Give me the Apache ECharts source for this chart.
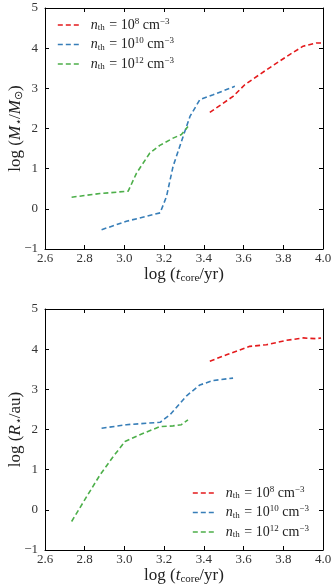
<!DOCTYPE html>
<html lang="en">
<head>
    <meta charset="UTF-8">
    <title>core mass and radius</title>
    <script src="https://cdn.jsdelivr.net/npm/echarts@6/dist/echarts.min.js"></script>
</head>
<body style="margin:0">
<div id="main" style="width: 333px;height:585px;"></div>
<script>
    // log(t_core/yr) and log(M*/Msun), top panel
    const tM8 = [3.43, 3.547, 3.606, 3.715, 3.832, 3.90, 3.966, 3.99];
    const logM8 = [2.40, 2.80, 3.09, 3.46, 3.84, 4.05, 4.13, 4.13];
    const tM10 = [2.885, 3.01, 3.18, 3.212, 3.245, 3.29, 3.33, 3.38, 3.447, 3.556];
    const logM10 = [-0.52, -0.31, -0.10, 0.31, 1.06, 1.72, 2.30, 2.72, 2.84, 3.05];
    const tM12 = [2.734, 2.877, 3.019, 3.061, 3.128, 3.178, 3.245, 3.287, 3.32];
    const logM12 = [0.29, 0.38, 0.44, 0.89, 1.39, 1.58, 1.76, 1.85, 2.05];

    // log(R*/au), bottom panel
    const tR8 = [3.43, 3.514, 3.631, 3.715, 3.816, 3.90, 3.966, 3.99];
    const logR8 = [3.70, 3.86, 4.07, 4.11, 4.22, 4.28, 4.26, 4.28];
    const tR10 = [2.885, 3.01, 3.18, 3.23, 3.313, 3.38, 3.447, 3.547];
    const logR10 = [2.03, 2.12, 2.18, 2.37, 2.84, 3.11, 3.22, 3.28];
    const tR12 = [2.734, 2.81, 2.877, 2.944, 3.003, 3.078, 3.178, 3.245, 3.287, 3.32];
    const logR12 = [-0.29, 0.33, 0.87, 1.33, 1.70, 1.87, 2.07, 2.09, 2.12, 2.24];

    const names = ['n8', 'n10', 'n12'];
    const powers = {n8: '8', n10: '10', n12: '12'};
    const colors = ['#e41a1c', '#377eb8', '#4daf4a'];

    const serif = 'Liberation Serif';
    const ink = '#222';
    const rich = {
        t: {fontFamily: serif, fontSize: 14, color: ink},
        i: {fontFamily: serif, fontSize: 14, fontStyle: 'italic', color: ink, padding: [0, 0, 0, 6]},
        sub: {fontFamily: serif, fontSize: 9, color: ink, padding: [6, 1, 0, 0]},
        sup: {fontFamily: serif, fontSize: 9, color: ink, padding: [0, 0, 7, 0]}
    };
    const axRich = {
        t: {fontFamily: serif, fontSize: 17, color: ink},
        i: {fontFamily: serif, fontSize: 17, fontStyle: 'italic', color: ink},
        sub: {fontFamily: serif, fontSize: 11, color: ink, padding: [8, 0, 0, 0]},
        isub: {fontFamily: serif, fontSize: 11, fontStyle: 'italic', color: ink, padding: [8, 0, 0, 0]}
    };

    function zip(xs, ys) {
        return xs.map(function (x, k) { return [x, ys[k]]; });
    }

    function legendText(name) {
        return '{i|n}{sub|th}{t| = 10}{sup|' + powers[name] + '}{t| cm}{sup|\u22123}';
    }

    const xName = '{t|log (}{i|t}{sub|core}{t|/yr)}';
    const yNameM = '{t|log (}{i|M}{isub|\u22c6}{t|/}{i|M}{sub|\u2299}{t|)}';
    const yNameR = '{t|log (}{i|R}{isub|\u22c6}{t|/au)}';

    const grids = [
        {left: 45, right: 10, top: 8, height: 241, outerBoundsMode: 'none'},
        {left: 45, right: 10, top: 309, height: 241, outerBoundsMode: 'none'}
    ];

    const tickLabel = {fontFamily: serif, fontSize: 13, color: '#333'};
    const lineAx = {onZero: false, lineStyle: {color: '#000', width: 1}};
    const tickIn = {inside: true, length: 4, lineStyle: {color: '#000'}};

    const xAxes = [];
    const yAxes = [];
    [0, 1].forEach(function (g) {
        xAxes.push({
            type: 'value', gridIndex: g, min: 2.6, max: 4.0, interval: 0.2,
            name: xName, nameLocation: 'middle', nameGap: 16, nameMoveOverlap: false,
            nameTextStyle: {rich: axRich},
            axisLine: lineAx, splitLine: {show: false}, axisTick: tickIn,
            axisLabel: Object.assign({margin: 3, formatter: function (v) { return v.toFixed(1); }}, tickLabel)
        });
        xAxes.push({
            type: 'value', gridIndex: g, position: 'top', min: 2.6, max: 4.0, interval: 0.2,
            axisLine: lineAx, splitLine: {show: false}, axisLabel: {show: false}, axisTick: tickIn
        });
        yAxes.push({
            type: 'value', gridIndex: g, min: -1, max: 5, interval: 1,
            name: g === 0 ? yNameM : yNameR, nameLocation: 'middle', nameGap: 20, nameMoveOverlap: false,
            nameTextStyle: {rich: axRich},
            axisLine: lineAx, splitLine: {show: false}, axisTick: tickIn,
            axisLabel: Object.assign({margin: 7, formatter: function (v) { return String(v).replace('-', '\u2212'); }}, tickLabel)
        });
        yAxes.push({
            type: 'value', gridIndex: g, position: 'right', min: -1, max: 5, interval: 1,
            axisLine: lineAx, splitLine: {show: false}, axisLabel: {show: false}, axisTick: tickIn
        });
    });

    const panels = [
        [zip(tM8, logM8), zip(tM10, logM10), zip(tM12, logM12)],
        [zip(tR8, logR8), zip(tR10, logR10), zip(tR12, logR12)]
    ];
    const series = [];
    panels.forEach(function (p, g) {
        p.forEach(function (d, k) {
            series.push({
                type: 'line', name: names[k], data: d,
                xAxisIndex: g * 2, yAxisIndex: g * 2,
                showSymbol: false, symbol: 'none',
                lineStyle: {color: colors[k], width: 1.6, type: [5, 3]},
                itemStyle: {color: colors[k]}
            });
        });
    });

    function legendAt(left, top) {
        return {
            left: left, top: top, orient: 'vertical', data: names,
            itemWidth: 22, itemHeight: 12, itemGap: 4,
            selectedMode: false, formatter: legendText,
            itemStyle: {opacity: 0},
            lineStyle: {type: [5, 3], width: 1.6},
            textStyle: {rich: rich}
        };
    }

    const myChart = echarts.init(document.getElementById('main'));
    const option = {
        animation: false,
        grid: grids,
        xAxis: xAxes,
        yAxis: yAxes,
        legend: [legendAt(52, 12), legendAt(187, 480)],
        series: series
    };
    myChart.setOption(option);
</script>
</body>
</html>
